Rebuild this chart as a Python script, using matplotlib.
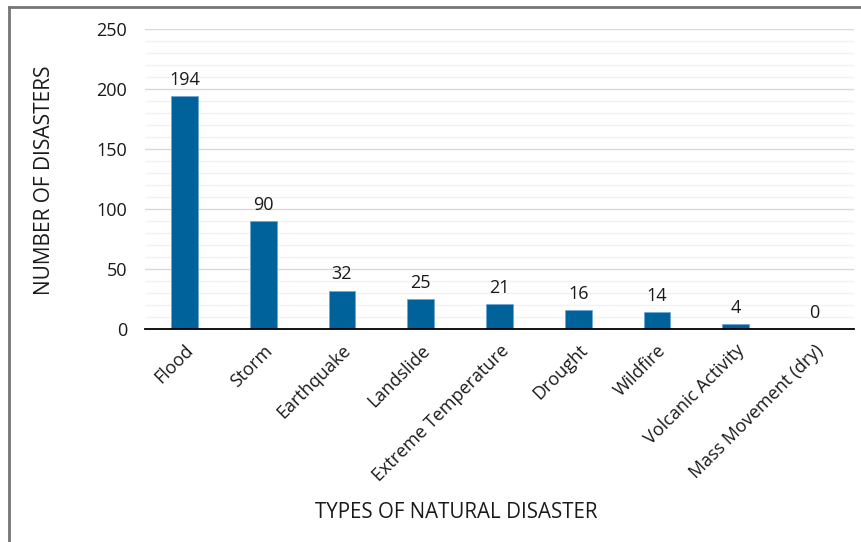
import matplotlib.pyplot as plt
from matplotlib.lines import Line2D
from matplotlib import ticker

disaster_types = ["Flood", "Storm", "Earthquake", "Landslide", "Extreme Temperature",
                  "Drought", "Wildfire", "Volcanic Activity", "Mass Movement (dry)"]
num_disasters = [194, 90, 32, 25, 21, 16, 14, 4, 0]

plt.rcParams['font.family'] = ['Open Sans', 'DejaVu Sans']

W, H = 861, 542
fig = plt.figure(figsize=(W / 100, H / 100), dpi=100)
ax = fig.add_axes([145 / W, 1 - 329 / H, 709 / W, 300 / H])

x = range(len(disaster_types))
ax.bar(x, num_disasters, width=0.34, color='#00629b', edgecolor='#6fa8d6', linewidth=0.6, zorder=3)
for xi, v in zip(x, num_disasters):
    ax.text(xi, v + 6, str(v), ha='center', va='bottom', fontsize=13, color='#1a1a1a')

ax.set_xlim(-0.5, len(disaster_types) - 0.5)
ax.set_ylim(0, 250)
ax.yaxis.set_major_locator(ticker.MultipleLocator(50))
ax.yaxis.set_minor_locator(ticker.MultipleLocator(10))
ax.grid(True, which='major', axis='y', color='#d9d9d9', linewidth=1, zorder=0)
ax.grid(True, which='minor', axis='y', color='#f2f2f2', linewidth=1, zorder=0)

for s in ['top', 'right', 'left']:
    ax.spines[s].set_visible(False)
ax.spines['bottom'].set_color('black')
ax.spines['bottom'].set_linewidth(1.3)
ax.spines['bottom'].set_zorder(4)

ax.tick_params(axis='both', which='both', length=0)
ax.tick_params(axis='y', labelsize=13, pad=13, colors='#1a1a1a')
ax.set_xticks(list(x))
ax.set_xticklabels(disaster_types, rotation=45, ha='right', rotation_mode='anchor',
                   fontsize=13, color='#1a1a1a')
ax.tick_params(axis='x', pad=9)

fig.text(45 / W, 1 - 180 / H, 'NUMBER OF DISASTERS', rotation=90, ha='center', va='center',
         fontsize=15, color='#1a1a1a')
fig.text(456 / W, 1 - 512 / H, 'TYPES OF NATURAL DISASTER', ha='center', va='center',
         fontsize=14.8, color='#1a1a1a')

# outer chart frame (top and left edges visible)
fig.add_artist(Line2D([9 / W, 1], [1 - 7 / H, 1 - 7 / H], color='#767676', linewidth=2))
fig.add_artist(Line2D([9 / W, 9 / W], [0, 1 - 7 / H], color='#767676', linewidth=2))

fig.savefig('out.png', dpi=100)
